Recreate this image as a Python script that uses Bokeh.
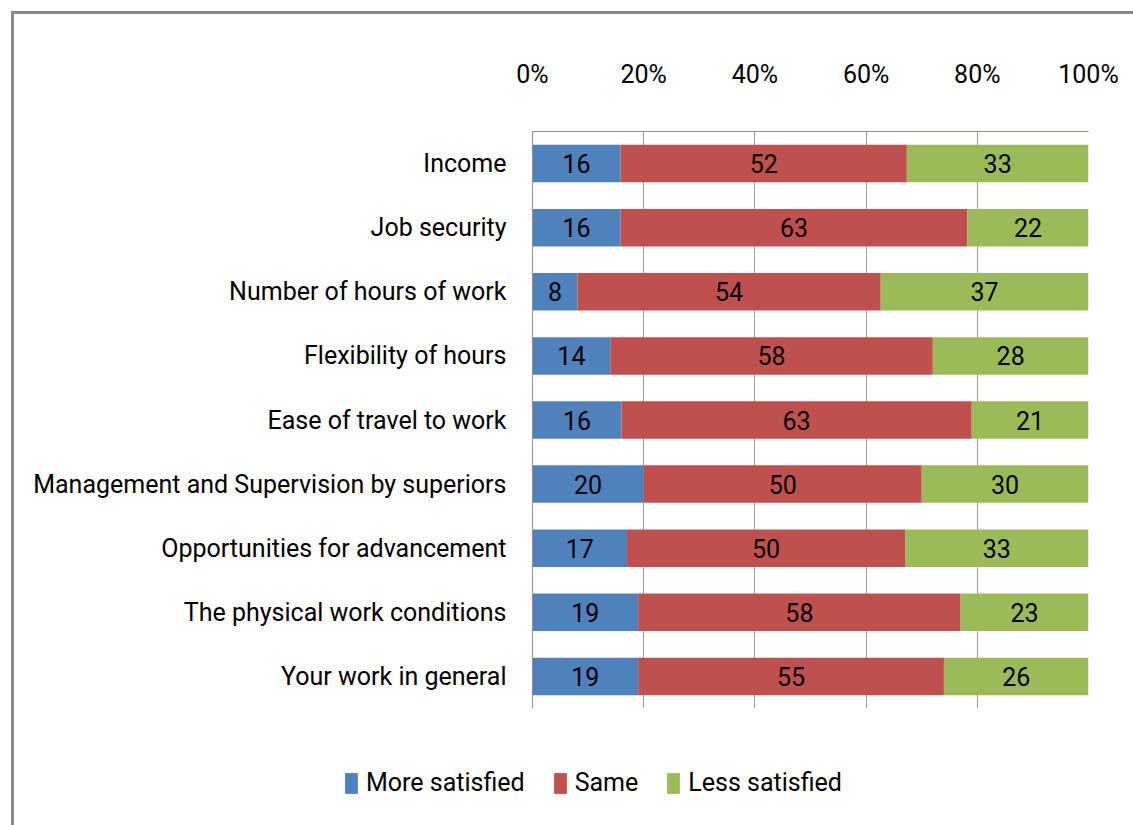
from bokeh.plotting import figure
from bokeh.layouts import column
from bokeh.models import (ColumnDataSource, FactorRange, Range1d, FixedTicker,
                          NumeralTickFormatter, Legend, LegendItem)
from bokeh.core.properties import value
from bokeh.embed import file_html
from bokeh.resources import INLINE

categories = ["Income", "Job security", "Number of hours of work",
              "Flexibility of hours", "Ease of travel to work",
              "Management and Supervision by superiors",
              "Opportunities for advancement", "The physical work conditions",
              "Your work in general"]
more_satisfied = [16, 16, 8, 14, 16, 20, 17, 19, 19]
same = [52, 63, 54, 58, 63, 50, 50, 58, 55]
less_satisfied = [33, 22, 37, 28, 21, 30, 33, 23, 26]
series_names = ["More satisfied", "Same", "Less satisfied"]
series_colors = ["#4F81BD", "#C0504D", "#9BBB59"]
x_ticks = [0, 0.2, 0.4, 0.6, 0.8, 1.0]

FONT = "Roboto"
FS = "25px"

series = [more_satisfied, same, less_satisfied]
totals = [a + b + c for a, b, c in zip(*series)]

p = figure(width=1133, height=738,
           x_range=Range1d(0, 1),
           y_range=FactorRange(*list(reversed(categories)), range_padding=0),
           x_axis_location="above",
           output_backend="svg", toolbar_location=None,
           min_border_left=532, min_border_right=45,
           min_border_top=131, min_border_bottom=30)
p.frame_align = False
p.border_fill_color = None
p.background_fill_color = "white"
p.styles = {"box-shadow": "inset 11px 11px 0 0 #ffffff, inset 14px 14px 0 0 #8a8a8a"}

starts = [0.0] * len(categories)
for name, vals, col in zip(series_names, series, series_colors):
    left = list(starts)
    right = [s + v / t for s, v, t in zip(starts, vals, totals)]
    mid = [(l + r) / 2 for l, r in zip(left, right)]
    src = ColumnDataSource(dict(cat=categories, left=left, right=right, mid=mid,
                                lbl=[str(v) for v in vals]))
    p.hbar(y="cat", left="left", right="right", height=0.585, source=src,
           fill_color=col, line_color=None)
    p.text(x="mid", y="cat", text="lbl", source=src, text_align="center",
           text_baseline="middle", text_font=value(FONT), text_font_size=FS,
           text_color="#000000")
    starts = right

xa = p.xaxis[0]
xa.ticker = FixedTicker(ticks=x_ticks)
xa.formatter = NumeralTickFormatter(format="0%")
xa.major_tick_line_color = None
xa.minor_tick_line_color = None
xa.major_tick_out = 0
xa.major_label_standoff = 43
xa.major_label_text_font = FONT
xa.major_label_text_font_size = FS
xa.major_label_text_color = "#000000"
xa.axis_line_color = "#8c8c8c"

ya = p.yaxis[0]
ya.major_tick_line_color = None
ya.major_tick_out = 0
ya.major_label_standoff = 26
ya.major_label_text_font = FONT
ya.major_label_text_font_size = FS
ya.major_label_text_color = "#000000"
ya.axis_line_color = "#8c8c8c"

p.xgrid.grid_line_color = "#9a9a9a"
p.ygrid.grid_line_color = None
p.outline_line_color = None

# legend strip: the library's legend, drawn in its own plot below the chart
lp = figure(width=1133, height=87, x_range=Range1d(0, 1), y_range=Range1d(0, 1),
            x_axis_location=None, y_axis_location=None,
            output_backend="svg", toolbar_location=None,
            min_border_left=0, min_border_right=0, min_border_top=0,
            min_border_bottom=0)
lp.frame_align = False
lp.grid.grid_line_color = None
lp.outline_line_color = None
lp.border_fill_color = None
lp.background_fill_color = None
lp.styles = {"box-shadow": "inset 11px 0 0 0 #ffffff, inset 14px 0 0 0 #8a8a8a"}

items = []
for name, col in zip(series_names, series_colors):
    src = ColumnDataSource(dict(y=[5.0], left=[5.0], right=[6.0]))
    r = lp.hbar(y="y", left="left", right="right", height=0.5, source=src,
                fill_color=col, line_color=None)
    items.append(LegendItem(label=name, renderers=[r]))

legend = Legend(items=items, orientation="horizontal", location=(343, 28),
                glyph_width=16, glyph_height=26, label_standoff=7, spacing=27,
                padding=0, margin=0, border_line_color=None,
                background_fill_alpha=0, label_text_font=FONT,
                label_text_font_size=FS, label_text_color="#000000")
lp.add_layout(legend, "center")

layout = column(p, lp, spacing=0)
open("out.html", "w").write(file_html(layout, INLINE))
